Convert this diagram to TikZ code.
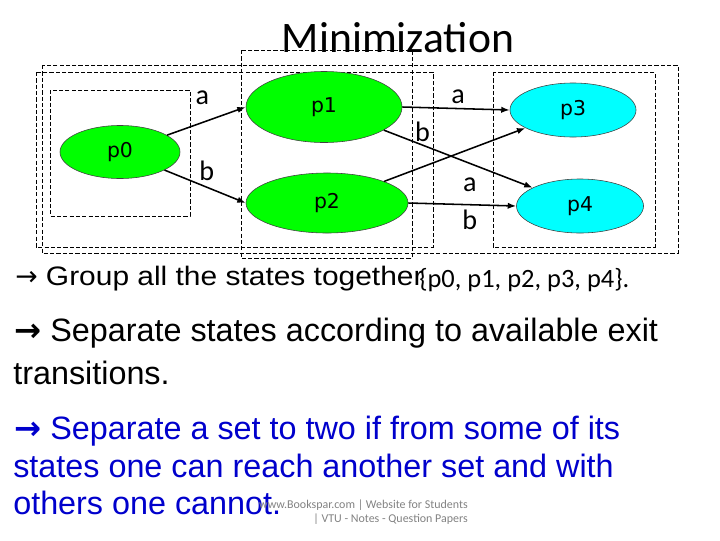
\documentclass[tikz,border=0pt]{standalone}
\usepackage{fontspec}
\usetikzlibrary{arrows.meta,shapes.geometric}
\newfontfamily\slidefont{Liberation Sans}
\newfontfamily\groupfont[FakeStretch=1.12]{Liberation Sans}
\newfontfamily\calfont{Carlito}
\newfontfamily\statefont{DejaVu Sans}
\newfontfamily\arrowfont{DejaVu Sans}
\definecolor{stgreen}{RGB}{0,255,0}
\definecolor{stcyan}{RGB}{0,255,255}
\definecolor{noteblue}{RGB}{0,0,204}
\definecolor{markgray}{RGB}{130,130,130}

\begin{document}
\begin{tikzpicture}[
  x=0.025cm,y=-0.025cm,
  >={Latex[length=6pt,width=4.5pt]},
  state/.style={ellipse,draw=black!75,line width=0.4pt,inner sep=0pt,font=\statefont\fontsize{14.5}{17}\selectfont},
  grp/.style={draw,line width=0.5pt,dash pattern=on 3pt off 1.5pt},
  trans/.style={->,line width=1.1pt},
  lab/.style={font=\calfont\fontsize{20}{24}\selectfont,inner sep=2pt},
  bullet/.style={anchor=base west,inner sep=0pt,font=\slidefont\fontsize{23}{27}\selectfont}
]
\useasboundingbox (0,0) rectangle (720,540);
% groups of states
\draw[grp] (42,65) rectangle (678,253);
\draw[grp] (36,72) rectangle (433,247);
\draw[grp] (50,90) rectangle (190,216);
\draw[grp] (241,50) rectangle (412,258);
\draw[grp] (493,72) rectangle (655,247);
\node[anchor=base,inner sep=0pt,font=\calfont\fontsize{31}{36}\selectfont] (title) at (398,52) {Minimization};
% states
\node[state,fill=stgreen,minimum width=3cm,minimum height=1.325cm] (p0) at (120,152) {p0};
\node[state,fill=stgreen,minimum width=3.9cm,minimum height=1.775cm] (p1) at (324,107) {p1};
\node[state,fill=stgreen,minimum width=4.05cm,minimum height=1.5cm] (p2) at (327,203) {p2};
\node[state,fill=stcyan,minimum width=3.15cm,minimum height=1.35cm] (p3) at (573,110) {p3};
\node[state,fill=stcyan,minimum width=3.175cm,minimum height=1.35cm] (p4) at (580,206) {p4};
% transitions
\draw[trans] (p0) -- node[lab,pos=0.45,above=10pt]{a} (p1.west);
\draw[trans] (p0) -- node[lab,pos=0.52,above=2pt]{b} (p2.west);
\draw[trans] (p1.east) -- node[lab,pos=0.52,above=1pt]{a} (p3.west);
\draw[trans] (p1) -- node[lab,pos=0.26,above]{b} (p4);
\draw[trans] (p2) -- (p3);
\draw[trans] (p2.east) -- node[lab,pos=0.57,above=7pt]{a} node[lab,pos=0.57,below=1pt]{b} (p4.west);
% text of the slide
\node[bullet,font=\groupfont\fontsize{19}{22}\selectfont] (group) at (15,285) {{\arrowfont →} Group all the states together};
\node[anchor=base west,inner sep=0pt,font=\calfont\fontsize{18.8}{22}\selectfont] (allset) at (419,287) {\{p0, p1, p2, p3, p4\}.};
\node[bullet] (exits) at (14,341) {{\arrowfont\bfseries →} Separate states according to available exit};
\node[bullet] (exits2) at (13,384) {transitions.};
\node[bullet,text=noteblue] (split) at (14,439) {{\arrowfont\bfseries →} Separate a set to two if from some of its};
\node[bullet,text=noteblue] (split2) at (13,477) {states one can reach another set and with};
\node[bullet,text=noteblue] (split3) at (13,514) {others one cannot.};
\node[anchor=base east,inner sep=0pt,text=markgray,font=\calfont\fontsize{8.5}{10}\selectfont] (mark) at (468,508) {www.Bookspar.com | Website for Students};
\node[anchor=base east,inner sep=0pt,text=markgray,font=\calfont\fontsize{8.5}{10}\selectfont] (mark2) at (468,522) {| VTU - Notes - Question Papers};
\end{tikzpicture}
\end{document}
